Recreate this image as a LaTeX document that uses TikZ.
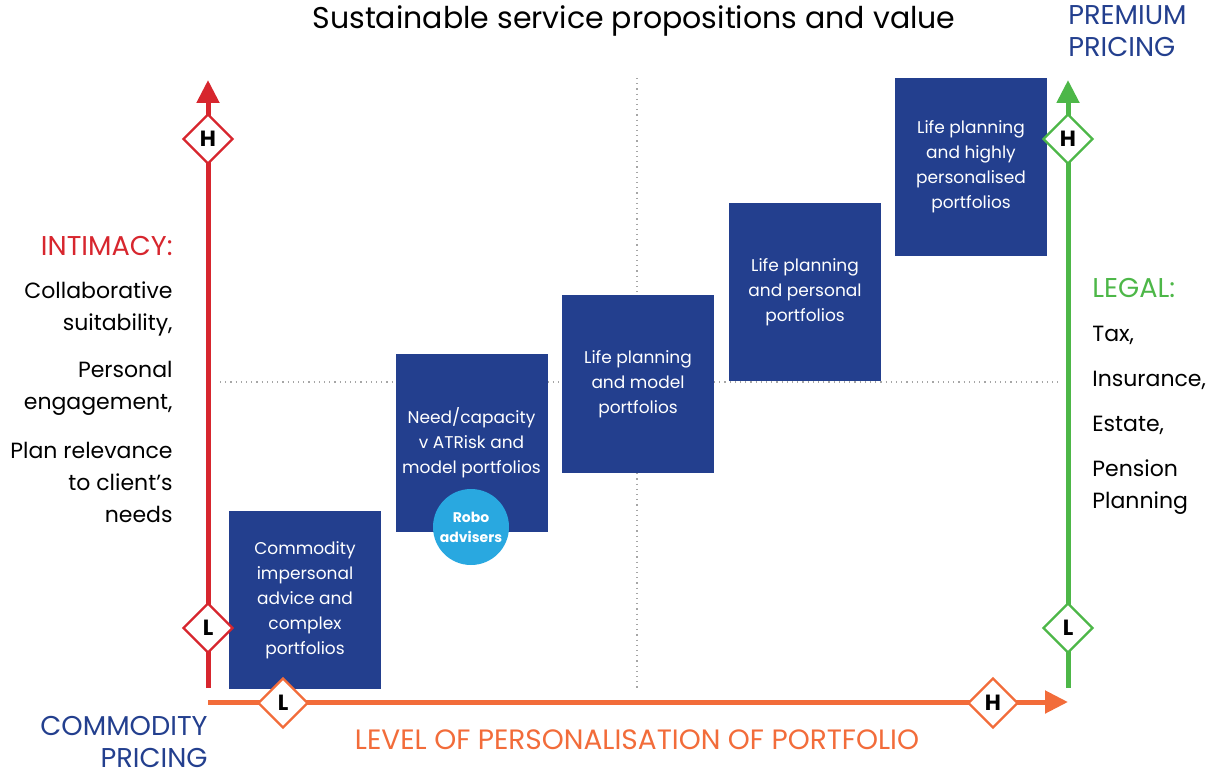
\documentclass[tikz,border=0pt]{standalone}
\usepackage{fontspec}
\setmainfont{Poppins}
\usetikzlibrary{shapes.geometric,arrows.meta}
\definecolor{navy}{HTML}{233F8E}
\definecolor{robo}{HTML}{29A8E0}
\definecolor{axred}{HTML}{D7262E}
\definecolor{axorange}{HTML}{F26C3A}
\definecolor{axgreen}{HTML}{4DB748}
\tikzset{
  axis/.style={line width=2.5pt,-{Triangle[length=11.5pt,width=11pt]}},
  level/.style={diamond,draw=#1,fill=white,line width=1.2pt,minimum size=25pt,inner sep=0pt,font=\bfseries\fontsize{11}{11}\selectfont},
  offer/.style={fill=navy,text=white,minimum width=76pt,minimum height=89pt,align=center,font=\fontsize{8.5}{12.5}\selectfont},
  guide/.style={gray!70,line width=0.6pt,dotted},
  side/.style={font=\fontsize{11}{16}\selectfont},
  heading/.style={font=\fontsize{13.6}{16}\selectfont}
}
\begin{document}
\begin{tikzpicture}[x=0.5pt,y=-0.5pt]
  \useasboundingbox (0,0) rectangle (1224,775);
  % guide lines
  \draw[guide] (637,78) -- (637,688);
  \draw[guide] (220,382) -- (1058,382);
  % offers
  \node[offer] (commodity) at (305,600) {Commodity\\impersonal\\advice and\\complex\\portfolios};
  \node[offer] (need) at (471.5,442.5) {Need/capacity\\v ATRisk and\\model portfolios};
  \node[offer] (lpmodel) at (638,384) {Life planning\\and model\\portfolios};
  \node[offer] (lppersonal) at (805,292) {Life planning\\and personal\\portfolios};
  \node[offer] (lphigh) at (971,167) {Life planning\\and highly\\personalised\\portfolios};
  \node[circle,fill=robo,text=white,minimum size=38pt,inner sep=0pt,align=center,
    font=\bfseries\fontsize{7}{10}\selectfont] (robo) at (471,527) {Robo\\advisers};
  % axes
  \coordinate (rbot) at (208,688);
  \coordinate (rtop) at (208,80);
  \coordinate (gbot) at (1068,688);
  \coordinate (gtop) at (1068,80);
  \coordinate (oleft) at (208,702);
  \coordinate (oright) at (1068,702);
  \draw[axis,axred] (rbot) -- (rtop);
  \draw[axis,axgreen] (gbot) -- (gtop);
  \draw[axis,axorange] (oleft) -- (oright);
  \node[level=axred] (redH) at (208,139) {H};
  \node[level=axred] (redL) at (208,628) {L};
  \node[level=axgreen] (greenH) at (1068,139) {H};
  \node[level=axgreen] (greenL) at (1068,628) {L};
  \node[level=axorange] (orangeL) at (283,703) {L};
  \node[level=axorange] (orangeH) at (993,703) {H};
  % titles
  \node[font=\fontsize{15}{18}\selectfont] (title) at (634,21) {Sustainable service propositions and value};
  \node[heading,text=navy,align=left,anchor=north west,inner sep=0pt] (premium) at (1068,5) {PREMIUM\\PRICING};
  \node[heading,text=navy,align=right,anchor=north east,inner sep=0pt] (commodityp) at (208,716) {COMMODITY\\PRICING};
  \node[font=\fontsize{14}{16}\selectfont,text=axorange] (personal) at (637,740) {LEVEL OF PERSONALISATION OF PORTFOLIO};
  % intimacy side
  \node[heading,text=axred,anchor=east,inner sep=0pt] (intimacy) at (173,246) {INTIMACY:};
  \node[side,align=right,anchor=east,inner sep=0pt] (collab) at (173,309) {Collaborative\\suitability,};
  \node[side,align=right,anchor=east,inner sep=0pt] (engage) at (173,388) {Personal\\engagement,};
  \node[side,align=right,anchor=east,inner sep=0pt] (relevance) at (173,482) {Plan relevance\\to client’s\\needs};
  % legal side
  \node[heading,text=axgreen,anchor=west,inner sep=0pt] (legal) at (1092,288) {LEGAL:};
  \node[side,anchor=west,inner sep=0pt] (tax) at (1092,335) {Tax,};
  \node[side,anchor=west,inner sep=0pt] (insurance) at (1092,380) {Insurance,};
  \node[side,anchor=west,inner sep=0pt] (estate) at (1092,425) {Estate,};
  \node[side,align=left,anchor=west,inner sep=0pt] (pension) at (1092,487) {Pension\\Planning};
\end{tikzpicture}
\end{document}
